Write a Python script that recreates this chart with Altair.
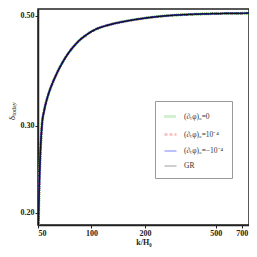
import altair as alt
import pandas as pd

k_vals = [50.3, 50.6, 51.5, 52.6, 54.2, 56.1, 58.6, 61.4, 66.0, 73.4, 83.4, 94.8,
          107.7, 122, 158, 204, 264, 350, 500, 770]
delta_vals = [0.189, 0.213, 0.262, 0.300, 0.322, 0.339, 0.356, 0.371, 0.392, 0.418,
              0.442, 0.459, 0.471, 0.478, 0.488, 0.495, 0.500, 0.503, 0.505, 0.506]
blue_k = [50.0] + k_vals[1:]

series = ["(∂ₜφ)₀=0", "(∂ₜφ)₀=10⁻⁴", "(∂ₜφ)₀=−10⁻⁴", "GR"]
colors = ["#22bb22", "#ee5555", "#2233ff", "#111111"]
dashes = [[1, 1], [3, 2], [1, 0], [1, 0]]
widths = [2.8, 1.2, 1.8, 1.4]

x_ticks = [50, 100, 200, 500, 700]
y_ticks = [0.2, 0.3, 0.5]

rows = []
for i, s in enumerate(series):
    ks = blue_k if i == 2 else k_vals
    for kk, dd in zip(ks, delta_vals):
        rows.append({"k": kk, "delta": dd, "series": s, "order": i})
df = pd.DataFrame(rows)

serif = "Liberation Serif"

lines = alt.Chart(df).mark_line(interpolate="monotone", clip=True).encode(
    x=alt.X("k:Q", scale=alt.Scale(type="log", domain=[50, 770], nice=False),
            axis=alt.Axis(values=x_ticks, format="d", title="k/H₀", grid=False,
                          tickSize=3, labelPadding=1, titlePadding=1,
                          labelFont=serif, labelFontWeight="bold", labelFontSize=8,
                          titleFont=serif, titleFontWeight="bold", titleFontSize=8,
                          domainColor="#222", tickColor="#222", labelColor="#222",
                          titleColor="#222", domainWidth=1.5)),
    y=alt.Y("delta:Q", scale=alt.Scale(type="log", domain=[0.189, 0.516], nice=False),
            axis=alt.Axis(values=y_ticks, format=".2f", title=None, grid=False,
                          tickSize=3, labelPadding=1,
                          labelFont=serif, labelFontWeight="bold", labelFontSize=8,
                          domainColor="#222", tickColor="#222", labelColor="#222",
                          domainWidth=1.5)),
    color=alt.Color("series:N", scale=alt.Scale(domain=series, range=colors),
                    sort=series,
                    legend=alt.Legend(orient="none", legendX=117, legendY=92,
                                      title=None, strokeColor="#999", fillColor="white",
                                      padding=8, rowPadding=4, labelFont=serif,
                                      labelFontSize=7.5, labelColor="#333",
                                      symbolType="stroke", symbolSize=144,
                                      symbolStrokeWidth=0.7, symbolOpacity=0.4,
                                      labelOffset=6)),
    strokeDash=alt.StrokeDash("series:N", scale=alt.Scale(domain=series, range=dashes),
                              sort=series, legend=None),
    strokeWidth=alt.StrokeWidth("series:N", scale=alt.Scale(domain=series, range=widths),
                                sort=series, legend=None),
    order="order:Q",
)

title_df = pd.DataFrame({"t": ["δ"]})
title_sub = pd.DataFrame({"t": ["today"]})
ytitle = alt.Chart(title_df).mark_text(angle=270, font=serif, fontSize=9,
                                       color="#222").encode(
    text="t:N", x=alt.value(-26), y=alt.value(109))
ysub = alt.Chart(title_sub).mark_text(angle=270, font=serif, fontSize=6,
                                      color="#222").encode(
    text="t:N", x=alt.value(-24), y=alt.value(100))

chart = alt.layer(lines, ytitle, ysub).properties(
    width=211, height=216,
    autosize=alt.AutoSizeParams(type="none"),
    padding={"left": 30, "top": 1, "right": 0, "bottom": 23},
).configure_view(stroke="#222", strokeWidth=1.5)

chart.save("out.html", embed_options={"renderer": "svg", "actions": False})
